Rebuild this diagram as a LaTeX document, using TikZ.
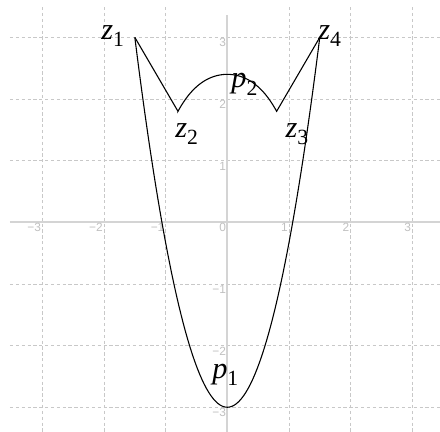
\documentclass[tikz,border=0pt]{standalone}
\usepackage{fontspec}
\setmainfont{Liberation Serif}
\newfontfamily\ticksans{Liberation Sans}
\usepackage{xcolor}
\definecolor{gridgray}{RGB}{200,200,200}
\definecolor{axisgray}{RGB}{212,212,212}
\definecolor{tickgray}{RGB}{192,192,192}
\usetikzlibrary{arrows.meta, positioning, calc}

\tikzset{
    gridline/.style={gridgray, line width=0.4pt, dash pattern=on 1.5pt off 1.2pt},
    axisline/.style={axisgray, line width=0.8pt},
    ticklabel/.style={tickgray, inner sep=0.4pt, anchor=north east, font=\ticksans\fontsize{5.5}{6}\selectfont},
    curveline/.style={black, line width=0.5pt},
    ptlabel/.style={inner sep=0pt, anchor=base west, font=\fontsize{14}{16}\selectfont},
}
\newcommand{\ptname}[2]{\textit{#1}\raisebox{-0.25em}{\fontsize{10}{12}\selectfont #2}}

\begin{document}
\begin{tikzpicture}[scale=1, >=Stealth]
    \useasboundingbox (-3.687,-3.401) rectangle (3.450,3.606);

    \foreach \i in {-3,-2,-1,1,2,3} {
        \draw[gridline] (-3.525,\i) -- (3.450,\i);
        \draw[gridline] (\i,3.49) -- (\i,-3.401);
    }
    \draw[axisline] (-3.525,0) -- (3.450,0);
    \draw[axisline] (0,3.36) -- (0,-3.401);

    \foreach \i in {-3,-2,-1,1,2,3} {
        \node[ticklabel] (xt\i) at (\i,0) {\ifnum\i<0 −\the\numexpr-\i\relax\else\i\fi};
        \node[ticklabel] (yt\i) at (0,\i) {\ifnum\i<0 −\the\numexpr-\i\relax\else\i\fi};
    }
    \node[ticklabel] (xt0) at (0,0) {0};

    \coordinate (O) at (0,0);
    \coordinate (z1) at (-1.5, 3.0);
    \coordinate (z2) at (-0.8, 1.8);
    \coordinate (z3) at (0.8, 1.8);
    \coordinate (z4) at (1.5, 3.0);

    \draw[curveline] (z1) -- (z2) -- plot[domain=-0.8:0.8, samples=61] ({\x},{2.4-0.727*\x*\x-0.329*\x*\x*\x*\x}) -- (z3) -- (z4);
    \draw[curveline] (z1) -- plot[domain=-1.5:1.5, samples=81] ({\x},{8/3*\x*\x-3}) -- (z4);

    \node[ptlabel] (lz1) at (-2.05, 2.97) {\ptname{z}{1}};
    \node[ptlabel] (lz2) at (-0.85, 1.38) {\ptname{z}{2}};
    \node[ptlabel] (lz3) at (0.94, 1.38) {\ptname{z}{3}};
    \node[ptlabel] (lz4) at (1.47, 2.97) {\ptname{z}{4}};
    \node[ptlabel] (lp2) at (0.06, 2.18) {\ptname{p}{2}};
    \node[ptlabel] (lp1) at (-0.25, -2.53) {\ptname{p}{1}};
\end{tikzpicture}
\end{document}
